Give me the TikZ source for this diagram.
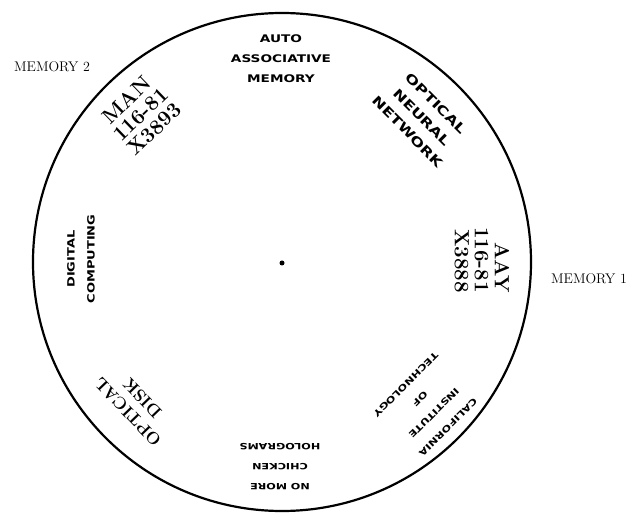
\documentclass[tikz,border=0pt]{standalone}
\usepackage{fontspec}
\newfontfamily\copfont{DejaVu Sans Bold}[FakeStretch=1.3]
\begin{document}
\begin{tikzpicture}[x=1pt,y=-1pt,
  lab/.style={inner sep=0pt, font=\fontsize{14}{16}\selectfont},
  cop/.style={align=center, inner sep=0pt, font=\copfont\fontsize{#1}{20}\selectfont},
  typ/.style={align=center, inner sep=0pt, font=\bfseries\fontsize{#1}{20}\selectfont},
]
\useasboundingbox (0,0) rectangle (633,516);
\node[circle, draw, line width=2.2pt, minimum size=498pt, inner sep=0pt] (disk) at (282,262) {};
\node[circle, fill, inner sep=0pt, minimum size=5pt] (hub) at (282,263) {};
\node[cop=10.5] (aam) at (281,59) {AUTO\\ASSOCIATIVE\\MEMORY};
\node[cop=12.7, rotate=-45] (onn) at (422,117.5) {OPTICAL\\NEURAL\\NETWORK};
\node[cop=10, rotate=90] (dc) at (81,259) {DIGITAL\\COMPUTING};
\node[cop=8.6, rotate=180] (nmc) at (280,467) {NO MORE\\CHICKEN\\HOLOGRAMS};
\node[cop=8.8, rotate=-135] (cit) at (427,406) {CALIFORNIA\\INSTITUTE\\OF\\TECHNOLOGY};
\node[typ=21, rotate=44] (man) at (140.5,114.5) {MAN\\116-81\\X3893};
\node[typ=20.5, rotate=-90, align=right] (aay) at (482,260) {AAY\\116-81\\X3888};
\node[typ=17, rotate=134] (od) at (135,405) {OPTICAL\\DISK};
\node[lab] (m2) at (52,67) {MEMORY 2};
\node[lab] (m1) at (589,279) {MEMORY 1};
\end{tikzpicture}
\end{document}
